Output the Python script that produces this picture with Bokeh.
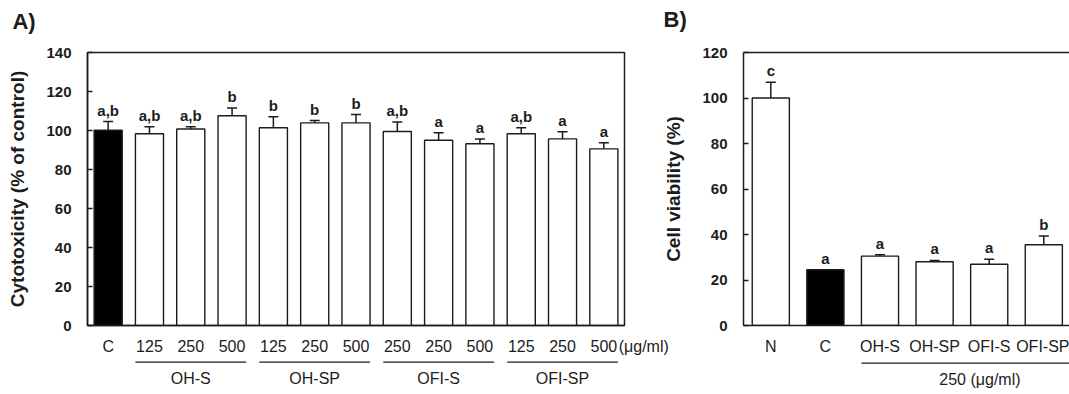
import numpy as np
from bokeh.plotting import figure
from bokeh.models import FixedTicker, Range1d, LinearAxis
from bokeh.layouts import row
from bokeh.embed import file_html
from bokeh.resources import INLINE
from bokeh.core.properties import value

# ---------------- data: panel A ----------------
a_tick_labels = ["C", "125", "250", "500", "125", "250", "500",
                 "250", "250", "500", "125", "250", "500"]
a_values = [100.2, 98.3, 100.8, 107.6, 101.4, 103.9, 103.9,
            99.5, 95.0, 93.2, 98.3, 95.7, 90.6]
a_errors = [4.4, 3.6, 1.1, 3.9, 5.6, 1.2, 4.3,
            4.9, 3.8, 2.5, 3.1, 3.6, 3.1]
a_letters = ["a,b", "a,b", "a,b", "b", "b", "b", "b",
             "a,b", "a", "a", "a,b", "a", "a"]
a_fill = ["black"] + ["white"] * 12
a_groups = ["OH-S", "OH-SP", "OFI-S", "OFI-SP"]
a_group_members = [[1, 2, 3], [4, 5, 6], [7, 8, 9], [10, 11, 12]]
a_unit = "(μg/ml)"
a_yticks = [0, 20, 40, 60, 80, 100, 120, 140]
a_ylabel = "Cytotoxicity (% of control)"
a_title = "A)"

# ---------------- data: panel B ----------------
b_tick_labels = ["N", "C", "OH-S", "OH-SP", "OFI-S", "OFI-SP"]
b_values = [100.0, 24.5, 30.5, 28.0, 26.9, 35.5]
b_errors = [6.9, 0.0, 0.6, 0.6, 2.2, 3.8]
b_letters = ["c", "a", "a", "a", "a", "b"]
b_fill = ["white", "black", "white", "white", "white", "white"]
b_group_label = "250 (μg/ml)"
b_group_members = [2, 3, 4, 5]
b_yticks = [0, 20, 40, 60, 80, 100, 120]
b_ylabel = "Cell viability (%)"
b_title = "B)"

FONT = "Liberation Sans"
INK = "#1c1c1c"
BAR_W = 0.68
FRAME_H = 274


def style_axes(p, yticks, ylabel, xlabels, label_standoff):
    p.grid.visible = False
    p.xaxis.ticker = FixedTicker(ticks=list(range(len(xlabels))))
    p.xaxis.major_label_overrides = {i: lab for i, lab in enumerate(xlabels)}
    p.xaxis.major_tick_line_color = None
    p.xaxis.minor_tick_line_color = None
    p.xaxis.major_label_standoff = 6
    p.xaxis.major_label_text_font = FONT
    p.xaxis.major_label_text_font_size = "16px"
    p.xaxis.major_label_text_color = INK
    p.yaxis.ticker = FixedTicker(ticks=yticks)
    p.yaxis.major_tick_in = 5
    p.yaxis.major_tick_out = 0
    p.yaxis.major_tick_line_width = 1.5
    p.yaxis.major_tick_line_color = INK
    p.yaxis.minor_tick_line_color = None
    p.yaxis.major_label_standoff = 16
    p.yaxis.major_label_text_font = FONT
    p.yaxis.major_label_text_font_style = "bold"
    p.yaxis.major_label_text_font_size = "15px"
    p.yaxis.major_label_text_color = INK
    p.yaxis.axis_label = ylabel
    p.yaxis.axis_label_text_font = FONT
    p.yaxis.axis_label_text_font_style = "bold"
    p.yaxis.axis_label_text_font_size = "19px"
    p.yaxis.axis_label_text_color = INK
    p.yaxis.axis_label_standoff = label_standoff
    for ax in (p.xaxis, p.yaxis):
        ax.axis_line_color = INK
        ax.axis_line_width = 1.5


def draw_bars(p, values, errors, letters, fill, cap, ymax):
    x = np.arange(len(values))
    v = np.array(values)
    e = np.array(errors)
    p.vbar(x=x, top=v, width=BAR_W, fill_color=fill, line_color=INK, line_width=1.4)
    m = e > 0
    p.segment(x0=x[m], y0=v[m], x1=x[m], y1=(v + e)[m], line_color=INK, line_width=1.5)
    p.dash(x=x[m], y=(v + e)[m], size=cap, line_color=INK, line_width=1.5)
    pad = 3.0 * ymax / FRAME_H  # 3 px gap, in data units
    p.text(x=x, y=v + e + pad, text=letters, text_align="center", text_baseline="bottom",
           text_font=value(FONT), text_font_style="bold",
           text_font_size="15px", text_color=INK)


# ---------------- panel A ----------------
nA = len(a_values)
A_W, A_H = 673, 392
pA = figure(width=A_W, height=A_H, x_range=Range1d(-0.5, nA - 0.5), y_range=Range1d(0, 140),
            output_backend="svg", toolbar_location=None,
            min_border_left=87, min_border_right=A_W - 87 - 537,
            min_border_top=52, min_border_bottom=A_H - 52 - FRAME_H)
pA.outline_line_color = INK
pA.outline_line_width = 1.5
pA.outline_line_alpha = 1.0
style_axes(pA, a_yticks, a_ylabel, a_tick_labels, 15)
draw_bars(pA, a_values, a_errors, a_letters, a_fill, 10, 140)

g0 = [min(g) - 0.34 for g in a_group_members]
g1 = [max(g) + 0.34 for g in a_group_members]
gc = [float(np.mean(g)) for g in a_group_members]
pA.segment(x0=g0, y0=[-18.75] * len(g0), x1=g1, y1=[-18.75] * len(g1),
           line_color=INK, line_width=1.3, level="overlay")
pA.text(x=gc, y=[-27.3] * len(gc), text=a_groups, text_align="center", text_baseline="middle",
        text_font=value(FONT), text_font_size="16px", text_color=INK, level="overlay")
pA.text(x=[nA - 1 + 0.36], y=[-10.6], text=[a_unit], text_align="left", text_baseline="middle",
        text_font=value(FONT), text_font_size="16px", text_color=INK, level="overlay")
pA.text(x=[-0.5 - 75 / 41.3], y=[140 + 44 / 1.957], text=[a_title], text_align="left",
        text_baseline="top", text_font=value(FONT), text_font_style="bold",
        text_font_size="22px", text_color=INK, level="overlay")

# ---------------- panel B ----------------
nB = len(b_values)
B_W, B_H = 414, 392
pB = figure(width=B_W, height=B_H, x_range=Range1d(-0.5, -0.5 + 326 / 54.6), y_range=Range1d(0, 120),
            output_backend="svg", toolbar_location=None,
            min_border_left=88, min_border_right=0,
            min_border_top=51, min_border_bottom=B_H - 51 - FRAME_H)
pB.margin = (0, 0, 0, -18)
pB.border_fill_alpha = 0
pB.outline_line_color = None
style_axes(pB, b_yticks, b_ylabel, b_tick_labels, 15)
top_axis = LinearAxis(ticker=FixedTicker(ticks=[]), major_tick_line_color=None,
                      minor_tick_line_color=None, major_label_text_font_size="0px",
                      axis_line_color=INK, axis_line_width=1.5)
pB.add_layout(top_axis, "above")
draw_bars(pB, b_values, b_errors, b_letters, b_fill, 10, 120)

bx0 = min(b_group_members) - 0.34
bx1 = max(b_group_members) + 1.0
pB.segment(x0=[bx0], y0=[-16.5], x1=[bx1], y1=[-16.5], line_color=INK, line_width=1.3, level="overlay")
pB.text(x=[(bx0 + bx1) / 2], y=[-23.8], text=[b_group_label], text_align="center",
        text_baseline="middle", text_font=value(FONT), text_font_size="16px",
        text_color=INK, level="overlay")
pB.text(x=[-0.5 - 80 / 54.6], y=[120 + 46 / 2.283], text=[b_title], text_align="left",
        text_baseline="top", text_font=value(FONT), text_font_style="bold",
        text_font_size="22px", text_color=INK, level="overlay")

layout = row(pA, pB)
open("out.html", "w").write(file_html(layout, INLINE))
